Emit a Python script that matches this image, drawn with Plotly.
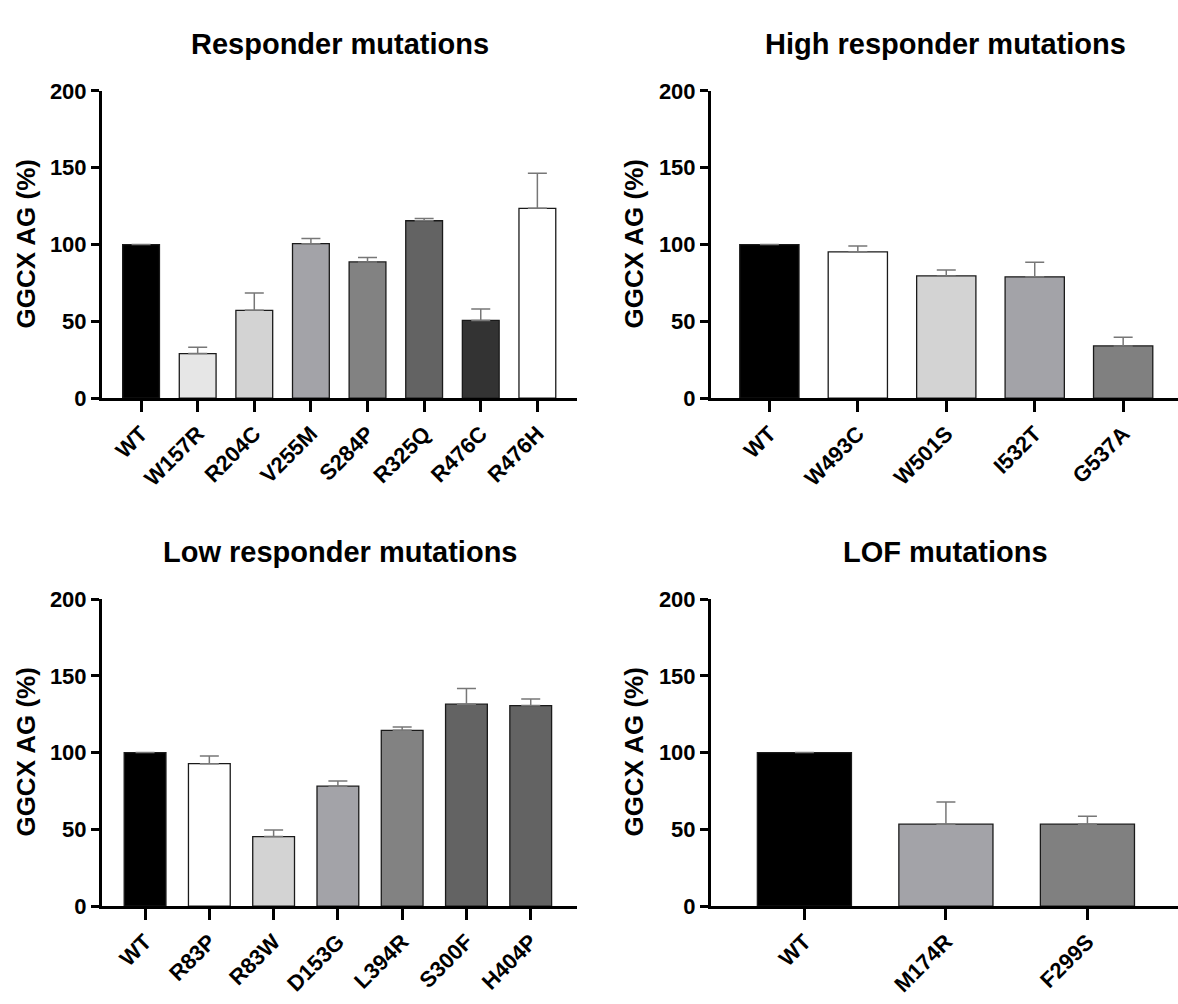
import plotly.graph_objects as go

# ---------------- data ----------------
titles = ["Responder mutations", "High responder mutations",
          "Low responder mutations", "LOF mutations"]

cats1 = ["WT", "W157R", "R204C", "V255M", "S284P", "R325Q", "R476C", "R476H"]
vals1 = [100, 29, 57.2, 100.6, 88.7, 115.5, 50.6, 123.6]
errs1 = [None, 4.1, 11.3, 3.4, 2.8, 1.5, 7.5, 22.8]
cols1 = ["#000000", "#e6e6e6", "#d3d3d3", "#a3a3a8", "#828282", "#636363", "#333333", "#ffffff"]

cats2 = ["WT", "W493C", "W501S", "I532T", "G537A"]
vals2 = [100, 95.3, 79.6, 79, 34]
errs2 = [None, 3.8, 3.8, 9.5, 5.6]
cols2 = ["#000000", "#ffffff", "#d3d3d3", "#a3a3a8", "#808080"]

cats3 = ["WT", "R83P", "R83W", "D153G", "L394R", "S300F", "H404P"]
vals3 = [100, 92.8, 45.3, 78.1, 114.5, 131.5, 130.6]
errs3 = [None, 4.9, 4.3, 3.4, 2.1, 10.2, 4.3]
cols3 = ["#000000", "#ffffff", "#d3d3d3", "#a3a3a8", "#828282", "#636363", "#636363"]

cats4 = ["WT", "M174R", "F299S"]
vals4 = [100, 53.4, 53.4]
errs4 = [None, 14.5, 5.1]
cols4 = ["#000000", "#a3a3a8", "#808080"]

y_ticks = [0, 50, 100, 150, 200]
y_title = "GGCX AG (%)"

# ---------------- layout geometry ----------------
W, H = 1178, 1004
panels = [
    dict(c=cats1, v=vals1, e=errs1, col=cols1, xd=[102 / W, 577 / W], yd=[(H - 396) / H, (H - 81) / H],
         xr=[-0.69, 7.7], bw=0.65, tx=340, ty=33, yx=26),
    dict(c=cats2, v=vals2, e=errs2, col=cols2, xd=[711 / W, 1.0], yd=[(H - 396) / H, (H - 81) / H],
         xr=[-0.66, 4.62], bw=0.67, tx=945, ty=33, yx=634),
    dict(c=cats3, v=vals3, e=errs3, col=cols3, xd=[102 / W, 577 / W], yd=[(H - 917) / H, (H - 602) / H],
         xr=[-0.67, 6.72], bw=0.65, tx=340, ty=554, yx=26),
    dict(c=cats4, v=vals4, e=errs4, col=cols4, xd=[711 / W, 1.0], yd=[(H - 917) / H, (H - 602) / H],
         xr=[-0.66, 2.64], bw=0.665, tx=945, ty=554, yx=634),
]

FONT = "Liberation Sans, Arial, sans-serif"
fig = go.Figure()
annotations = []
layout = {}

for i, p in enumerate(panels):
    n = i + 1
    xa = "x" if n == 1 else f"x{n}"
    ya = "y" if n == 1 else f"y{n}"
    fig.add_trace(go.Bar(
        x=p["c"], y=p["v"], xaxis=xa, yaxis=ya, width=p["bw"],
        marker=dict(color=p["col"], line=dict(color="#1a1a1a", width=1.3)),
        error_y=dict(type="data", array=p["e"], arrayminus=[0] * len(p["e"]), symmetric=False,
                     color="#777777", thickness=1.5, width=9.5),
        showlegend=False, hoverinfo="x+y",
    ))
    xkey = "xaxis" if n == 1 else f"xaxis{n}"
    ykey = "yaxis" if n == 1 else f"yaxis{n}"
    layout[xkey] = dict(
        domain=p["xd"], anchor=ya, type="category", categoryorder="array", categoryarray=p["c"],
        range=p["xr"], showline=True, linecolor="black", linewidth=3,
        ticks="outside", ticklen=11, tickwidth=3, tickcolor="black",
        tickangle=-45, tickfont=dict(family=FONT, size=22, color="black", weight="bold"),
        showgrid=False, zeroline=False, fixedrange=True,
    )
    layout[ykey] = dict(
        domain=p["yd"], anchor=xa, range=[0, 200], tickvals=y_ticks,
        showline=True, linecolor="black", linewidth=3,
        ticks="outside", ticklen=8, tickwidth=3, tickcolor="black",
        tickfont=dict(family=FONT, size=22, color="black", weight="bold"),
        showgrid=False, zeroline=False, fixedrange=True,
    )
    annotations.append(dict(
        text=titles[i], x=p["tx"] / W, y=1 - p["ty"] / H, xref="paper", yref="paper",
        xanchor="center", yanchor="middle", showarrow=False,
        font=dict(family=FONT, size=29, color="black", weight="bold"),
    ))
    annotations.append(dict(
        text=y_title, x=p["yx"] / W, y=(p["yd"][0] + p["yd"][1]) / 2, xref="paper", yref="paper",
        xanchor="center", yanchor="middle", showarrow=False, textangle=-90,
        font=dict(family=FONT, size=26, color="black", weight="bold"),
    ))

fig.update_layout(
    width=W, height=H, margin=dict(l=0, r=0, t=0, b=0),
    paper_bgcolor="white", plot_bgcolor="white",
    annotations=annotations, bargap=0.35, **layout,
)

fig.write_html("out.html")
